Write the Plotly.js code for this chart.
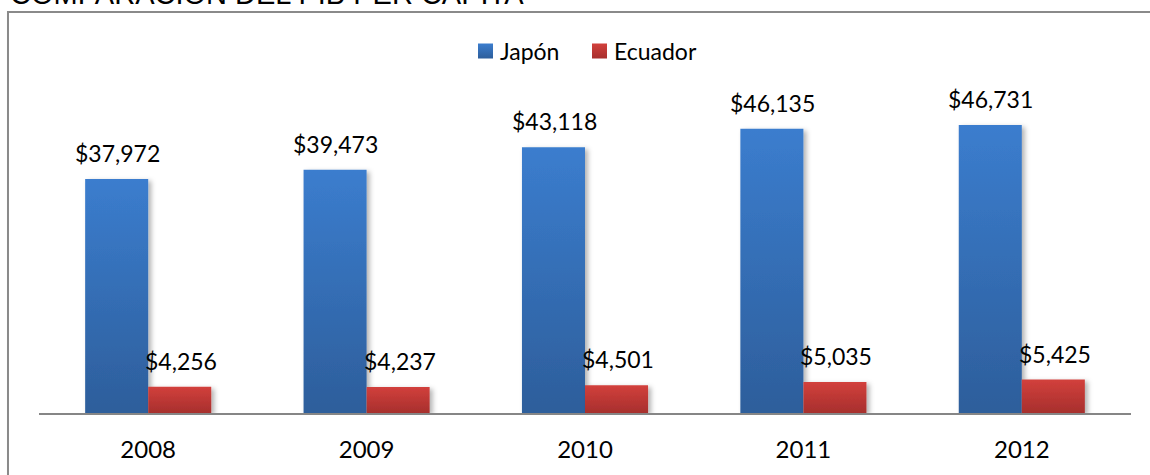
<!DOCTYPE html>
<html>
<head>
<meta charset="utf-8">
<script src="https://cdn.plot.ly/plotly-3.0.1.min.js"></script>
<style>
html,body{margin:0;padding:0;background:#fff;}
#chart{width:1150px;height:475px;}
</style>
</head>
<body>
<div id="chart"></div>
<script>
const years = ["2008", "2009", "2010", "2011", "2012"];
const japon = [37972, 39473, 43118, 46135, 46731];
const ecuador = [4256, 4237, 4501, 5035, 5425];
const seriesNames = ["Japón", "Ecuador"];
const chartTitle = "COMPARACIÓN DEL PIB PER CÁPITA";

function fmt(v){ return "$" + v.toLocaleString("en-US"); }

const labelFont = {family: "Lato, 'Open Sans', sans-serif", size: 23, color: "#000"};

const annotations = [];
years.forEach((y, i) => {
  annotations.push({x: i, y: japon[i], xref: "x", yref: "y", text: fmt(japon[i]), showarrow: false,
    xanchor: "center", yanchor: "bottom", xshift: -31, yshift: 10, font: labelFont});
  annotations.push({x: i, y: ecuador[i], xref: "x", yref: "y", text: fmt(ecuador[i]), showarrow: false,
    xanchor: "center", yanchor: "bottom", xshift: 33, yshift: 10, font: labelFont});
});
annotations.push({
  x: -0.0284, y: 1.0204, xref: "paper", yref: "paper", xanchor: "left", yanchor: "bottom",
  yshift: 0, text: chartTitle, showarrow: false,
  font: {family: "'Liberation Sans', Arial, sans-serif", size: 29, color: "#000"}
});

const data = [
  {type: "bar", name: seriesNames[0], x: years, y: japon, marker: {color: "#3470B8"}, hoverinfo: "skip"},
  {type: "bar", name: seriesNames[1], x: years, y: ecuador, marker: {color: "#C43936"}, hoverinfo: "skip"}
];

const layout = {
  width: 1150, height: 475,
  margin: {l: 39, r: 19, t: 20, b: 62},
  paper_bgcolor: "#fff", plot_bgcolor: "#fff",
  barmode: "group", bargap: 0.4227, bargroupgap: 0,
  showlegend: true,
  legend: {orientation: "h", x: 0.5, xanchor: "center", y: 0.921, yanchor: "middle",
    font: labelFont, itemwidth: 30, traceorder: "normal", bgcolor: "rgba(0,0,0,0)"},
  xaxis: {type: "category", range: [-0.5, 4.5], autorange: false, showline: true, linecolor: "#868686", linewidth: 2,
    showgrid: false, zeroline: false, ticks: "", ticklabelstandoff: 14,
    tickfont: {family: labelFont.family, size: 24, color: "#000"}, fixedrange: true},
  yaxis: {visible: false, range: [0, 63770], autorange: false, showgrid: false, zeroline: false, fixedrange: true},
  annotations: annotations,
  shapes: [{type: "rect", xref: "paper", yref: "paper", x0: -0.0284, x1: 1.3, y0: -0.6, y1: 1.0204,
    line: {color: "#8a8a8a", width: 2}, fillcolor: "rgba(0,0,0,0)", layer: "below"}]
};

Plotly.newPlot("chart", data, layout, {displayModeBar: false, staticPlot: true}).then(gd => {
  const svg = gd.querySelector("svg.main-svg");
  const ns = "http://www.w3.org/2000/svg";
  let defs = svg.querySelector("defs");
  if (!defs) { defs = document.createElementNS(ns, "defs"); svg.insertBefore(defs, svg.firstChild); }
  function grad(id, top, bottom){
    const g = document.createElementNS(ns, "linearGradient");
    g.setAttribute("id", id); g.setAttribute("x1","0"); g.setAttribute("y1","0"); g.setAttribute("x2","0"); g.setAttribute("y2","1");
    [[0, top],[1, bottom]].forEach(([o,c]) => {
      const s = document.createElementNS(ns, "stop"); s.setAttribute("offset", o); s.setAttribute("stop-color", c); g.appendChild(s);
    });
    defs.appendChild(g);
  }
  grad("gBlue", "#3B7DCE", "#2D5E9B");
  grad("gRed", "#D2403C", "#A72F2D");
  const f = document.createElementNS(ns, "filter");
  f.setAttribute("id", "shadow"); f.setAttribute("x", "-20%"); f.setAttribute("y", "-20%"); f.setAttribute("width", "150%"); f.setAttribute("height", "150%");
  const ds = document.createElementNS(ns, "feDropShadow");
  ds.setAttribute("dx", "3"); ds.setAttribute("dy", "2"); ds.setAttribute("stdDeviation", "2.5");
  ds.setAttribute("flood-color", "#000"); ds.setAttribute("flood-opacity", "0.3");
  f.appendChild(ds); defs.appendChild(f);
  const traces = gd.querySelectorAll(".barlayer .trace");
  const ids = ["gBlue", "gRed"];
  traces.forEach((t, i) => {
    t.querySelectorAll("path").forEach(p => { p.style.fill = "url(#" + ids[i] + ")"; p.setAttribute("filter", "url(#shadow)"); });
  });
  // legend tweaks: larger squares, tighter text gap, positions as in the reference
  const targetLeft = [478, 592];
  const svgRect = svg.getBoundingClientRect();
  gd.querySelectorAll(".legend .traces").forEach((t, i) => {
    const p = t.querySelector(".legendpoints path");
    if (!p) return;
    p.style.fill = "url(#" + ids[i] + ")";
    p.setAttribute("transform", "scale(1.25)");
    let r = p.getBoundingClientRect();
    const dx = targetLeft[i] - (r.left - svgRect.left);
    const tr = t.getAttribute("transform") || "";
    const m = tr.match(/translate\(\s*([-\d.]+)[ ,]+([-\d.]+)\s*\)/);
    if (m) t.setAttribute("transform", "translate(" + (parseFloat(m[1]) + dx) + "," + m[2] + ")");
    r = p.getBoundingClientRect();
    const txt = t.querySelector("text.legendtext");
    if (txt) {
      const tr2 = txt.getBoundingClientRect();
      const want = r.right + 7;
      const cur = parseFloat(txt.getAttribute("x") || "0");
      txt.setAttribute("x", cur + (want - tr2.left));
    }
  });
});
</script>
</body>
</html>
